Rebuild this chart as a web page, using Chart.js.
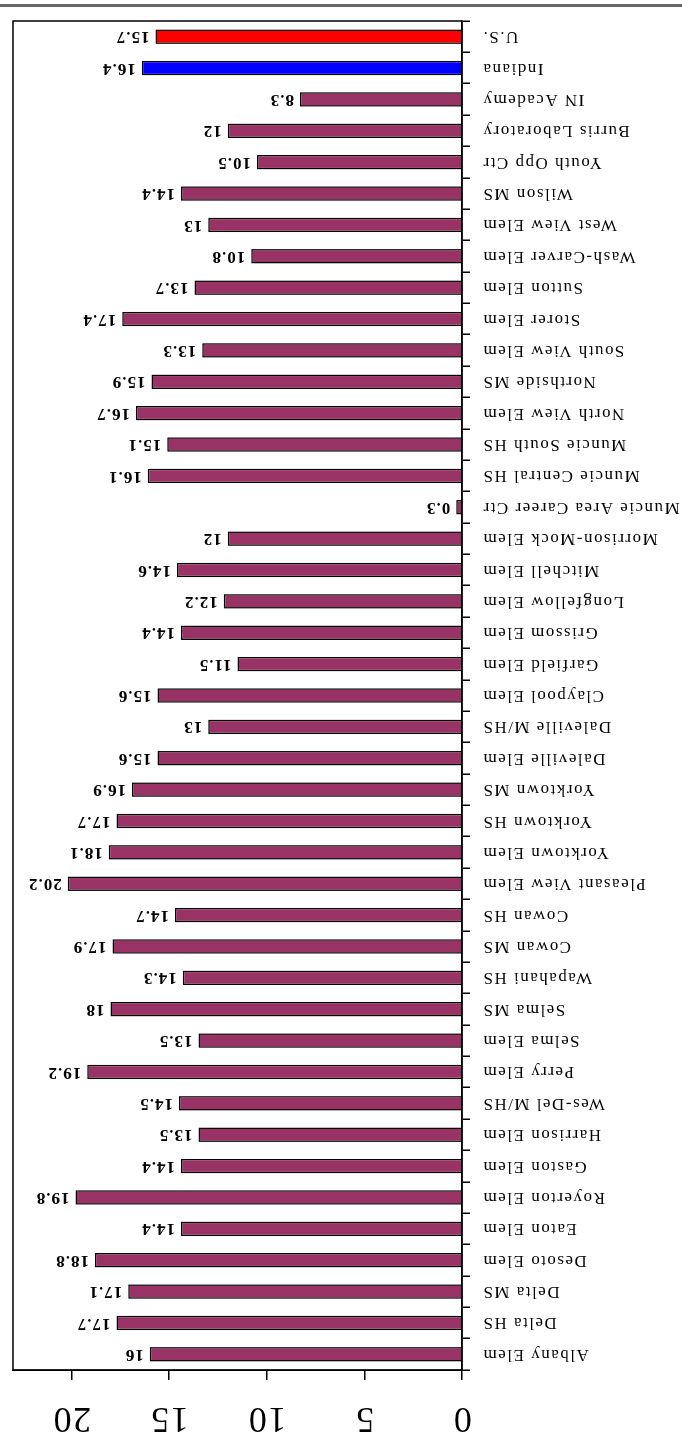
<!DOCTYPE html>
<html>
<head>
<meta charset="utf-8">
<script src="https://cdn.jsdelivr.net/npm/chart.js@4"></script>
<style>
    html, body { margin: 0; padding: 0; background: #fff; overflow: hidden; }
    body { width: 682px; height: 1443px; position: relative; }
    .rotator {
        position: absolute;
        left: 0;
        top: 0;
        width: 1443px;
        height: 682px;
        transform-origin: 0 0;
        transform: translate(0, 1443px) rotate(-90deg);
    }
</style>
</head>
<body>
<div class="rotator">
    <canvas id="schoolChart" width="1443" height="682"></canvas>
</div>
<script>
const schools = [
    'Albany Elem', 'Delta HS', 'Delta MS', 'Desoto Elem', 'Eaton Elem', 'Royerton Elem',
    'Gaston Elem', 'Harrison Elem', 'Wes-Del M/HS', 'Perry Elem', 'Selma Elem', 'Selma MS',
    'Wapahani HS', 'Cowan MS', 'Cowan HS', 'Pleasant View Elem', 'Yorktown Elem', 'Yorktown HS',
    'Yorktown MS', 'Daleville Elem', 'Daleville M/HS', 'Claypool Elem', 'Garfield Elem', 'Grissom Elem',
    'Longfellow Elem', 'Mitchell Elem', 'Morrison-Mock Elem', 'Muncie Area Career Ctr', 'Muncie Central HS',
    'Muncie South HS', 'North View Elem', 'Northside MS', 'South View Elem', 'Storer Elem', 'Sutton Elem',
    'Wash-Carver Elem', 'West View Elem', 'Wilson MS', 'Youth Opp Ctr', 'Burris Laboratory', 'IN Academy',
    'Indiana', 'U.S.'
];
const values = [
    16, 17.7, 17.1, 18.8, 14.4, 19.8,
    14.4, 13.5, 14.5, 19.2, 13.5, 18,
    14.3, 17.9, 14.7, 20.2, 18.1, 17.7,
    16.9, 15.6, 13, 15.6, 11.5, 14.4,
    12.2, 14.6, 12, 0.3, 16.1,
    15.1, 16.7, 15.9, 13.3, 17.4, 13.7,
    10.8, 13, 14.4, 10.5, 12, 8.3,
    16.4, 15.7
];
const valueTicks = [0, 5, 10, 15, 20];
const valueMax = 23;

const barColor = name => name === 'Indiana' ? '#0000ff' : (name === 'U.S.' ? '#ff0000' : '#993366');

const valueLabels = {
    id: 'valueLabels',
    afterDatasetsDraw(chart) {
        const ctx = chart.ctx;
        const meta = chart.getDatasetMeta(0);
        ctx.save();
        ctx.letterSpacing = '1px';
        ctx.font = 'bold 17px "Liberation Serif"';
        ctx.fillStyle = '#000';
        ctx.textAlign = 'left';
        ctx.textBaseline = 'middle';
        meta.data.forEach((bar, i) => {
            ctx.save();
            ctx.translate(bar.x, bar.y - 6);
            ctx.rotate(-Math.PI / 2);
            ctx.fillText(String(values[i]), 0, 0);
            ctx.restore();
        });
        ctx.restore();
    }
};

const frame = {
    id: 'frame',
    beforeDraw(chart) {
        chart.ctx.letterSpacing = '1.5px';
    },
    afterDraw(chart) {
        const {ctx, chartArea: a} = chart;
        ctx.save();
        ctx.strokeStyle = '#000';
        ctx.lineWidth = 1.5;
        ctx.strokeRect(a.left, a.top, a.right - a.left, a.bottom - a.top);
        ctx.fillStyle = '#666';
        ctx.fillRect(1436, 0, 3, 682);
        ctx.restore();
    }
};

new Chart(document.getElementById('schoolChart').getContext('2d'), {
    type: 'bar',
    data: {
        labels: schools,
        datasets: [{
            data: values,
            backgroundColor: schools.map(barColor),
            borderColor: '#000',
            borderWidth: 1.5,
            barPercentage: 0.46,
            categoryPercentage: 1
        }]
    },
    options: {
        responsive: false,
        devicePixelRatio: 1,
        animation: false,
        layout: { padding: { top: 13, right: 21, left: 0, bottom: 0 } },
        plugins: {
            legend: { display: false },
            tooltip: { enabled: false }
        },
        scales: {
            x: {
                afterFit: s => { s.height = 220; s.paddingLeft = 0; s.paddingRight = 0; },
                grid: { offset: true, drawOnChartArea: false, tickLength: 8, color: '#000', lineWidth: 1.5 },
                border: { color: '#000', width: 1.5 },
                ticks: {
                    autoSkip: false,
                    minRotation: 90,
                    maxRotation: 90,
                    padding: 12,
                    color: '#000',
                    font: { family: 'Liberation Serif', size: 17 }
                }
            },
            y: {
                min: 0,
                max: valueMax,
                afterFit: s => { s.width = 73; s.paddingTop = 0; s.paddingBottom = 0; },
                afterBuildTicks: s => { s.ticks = valueTicks.map(v => ({ value: v })); },
                grid: { drawOnChartArea: false, tickLength: 10, color: '#000', lineWidth: 1.5 },
                border: { color: '#000', width: 1.5 },
                ticks: {
                    minRotation: 90,
                    maxRotation: 90,
                    crossAlign: 'center',
                    padding: 19,
                    color: '#000',
                    font: { family: 'Liberation Serif', size: 36 }
                }
            }
        }
    },
    plugins: [valueLabels, frame]
});
</script>
</body>
</html>
